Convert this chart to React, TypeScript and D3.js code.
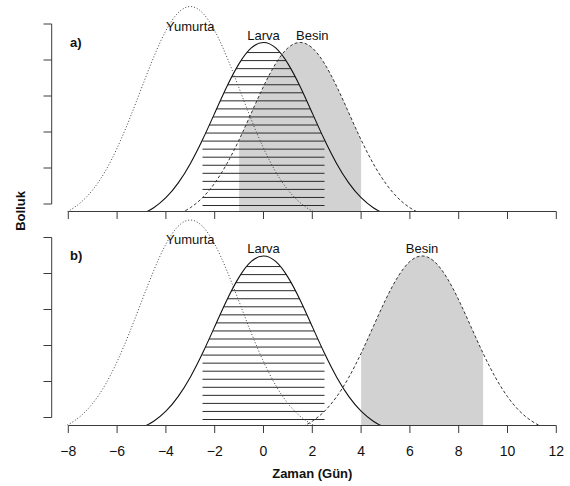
import React from 'react';
import * as d3 from 'd3';

// ---- data ----
const X_TICKS = [-8, -6, -4, -2, 0, 2, 4, 6, 8, 10, 12];
const Y_TICKS = [0.02, 0.06, 0.1, 0.14, 0.18, 0.22];

const YUMURTA_X = [-8.5, -8, -7.5, -7, -6.5, -6, -5.5, -5, -4.5, -4, -3.5, -3, -2.5, -2, -1.5, -1, -0.5, 0, 0.5, 1, 1.5, 2, 2.5];
const YUMURTA_Y = [0.0066, 0.0122, 0.0215, 0.0357, 0.0557, 0.0821, 0.1138, 0.1487, 0.1832, 0.2126, 0.2324, 0.2394, 0.2324, 0.2126, 0.1832, 0.1487, 0.1138, 0.0821, 0.0557, 0.0357, 0.0215, 0.0122, 0.0066];

const LARVA_X = [-5.5, -5, -4.5, -4, -3.5, -3, -2.5, -2, -1.5, -1, -0.5, 0, 0.5, 1, 1.5, 2, 2.5, 3, 3.5, 4, 4.5, 5, 5.5];
const LARVA_Y = [0.0045, 0.0088, 0.0159, 0.027, 0.0432, 0.0648, 0.0913, 0.121, 0.1506, 0.176, 0.1934, 0.1995, 0.1934, 0.176, 0.1506, 0.121, 0.0913, 0.0648, 0.0432, 0.027, 0.0159, 0.0088, 0.0045];

const BESIN_A_X = [-4, -3.5, -3, -2.5, -2, -1.5, -1, -0.5, 0, 0.5, 1, 1.5, 2, 2.5, 3, 3.5, 4, 4.5, 5, 5.5, 6, 6.5, 7];
const BESIN_B_X = [1, 1.5, 2, 2.5, 3, 3.5, 4, 4.5, 5, 5.5, 6, 6.5, 7, 7.5, 8, 8.5, 9, 9.5, 10, 10.5, 11, 11.5, 12];
const BESIN_Y = [0.0045, 0.0088, 0.0159, 0.027, 0.0432, 0.0648, 0.0913, 0.121, 0.1506, 0.176, 0.1934, 0.1995, 0.1934, 0.176, 0.1506, 0.121, 0.0913, 0.0648, 0.0432, 0.027, 0.0159, 0.0088, 0.0045];

const HATCH_RANGE = [-2.5, 2.5];
const SHADE_A = [-1, 4];
const SHADE_B = [4, 9];

const LABEL_NAMES = ['Yumurta', 'Larva', 'Besin'];
const LABEL_X_A = [-3, 0, 2];
const LABEL_X_B = [-3, 0, 6.5];
const LABEL_Y = [0.2125, 0.2025, 0.2025];

// ---- layout ----
const W = 570;
const H = 486;
const FONT = '"Liberation Sans", Arial, Helvetica, sans-serif';
const AXIS_COLOR = '#3a3a3a';

const x = d3.scaleLinear().domain([-8, 12]).range([68.3, 556.3]);

type Pt = { x: number; y: number };
const zip = (xs: number[], ys: number[]): Pt[] => xs.map((v, i) => ({ x: v, y: ys[i] }));

const yumurta = zip(YUMURTA_X, YUMURTA_Y);
const larva = zip(LARVA_X, LARVA_Y);
const besinA = zip(BESIN_A_X, BESIN_Y);
const besinB = zip(BESIN_B_X, BESIN_Y);

interface PanelProps {
  id: string;
  top: number;
  bottom: number;
  baseline: number;
  besin: Pt[];
  shade: number[];
  labelX: number[];
  tag: string;
  tagY: number;
  showTickLabels: boolean;
}

function Panel(p: PanelProps) {
  const y = d3.scaleLinear().domain([0.02, 0.22]).range([p.bottom, p.top]);
  const line = d3
    .line<Pt>()
    .x((d) => x(d.x))
    .y((d) => y(d.y))
    .curve(d3.curveNatural);
  const area = d3
    .area<Pt>()
    .x((d) => x(d.x))
    .y0(p.baseline + 20)
    .y1((d) => y(d.y))
    .curve(d3.curveNatural);

  const regionClip = `${p.id}-region`;
  const shadeClip = `${p.id}-shade`;
  const larvaClip = `${p.id}-larva`;

  const hatchYs = d3.range(20).map((k) => p.baseline - 6 - k * 8.05);

  return (
    <g>
      <defs>
        <clipPath id={regionClip}>
          <rect x={x(-8.8)} y={p.top - 60} width={x(12.8) - x(-8.8)} height={p.baseline - (p.top - 60)} />
        </clipPath>
        <clipPath id={shadeClip}>
          <rect x={x(p.shade[0])} y={p.top - 60} width={x(p.shade[1]) - x(p.shade[0])} height={p.baseline - (p.top - 60)} />
        </clipPath>
        <clipPath id={larvaClip}>
          <path d={area(larva) || ''} />
        </clipPath>
      </defs>

      <g clipPath={`url(#${regionClip})`}>
        <g clipPath={`url(#${shadeClip})`}>
          <path d={area(p.besin) || ''} fill="#d2d2d2" stroke="none" />
        </g>
        <g clipPath={`url(#${larvaClip})`}>
          {hatchYs.map((hy, i) => (
            <line
              key={i}
              x1={x(HATCH_RANGE[0])}
              x2={x(HATCH_RANGE[1])}
              y1={hy}
              y2={hy}
              stroke="#2a2a2a"
              strokeWidth={1}
            />
          ))}
        </g>
        <path d={line(yumurta) || ''} fill="none" stroke="#444" strokeWidth={1} strokeDasharray="1,2" />
        <path d={line(p.besin) || ''} fill="none" stroke="#333" strokeWidth={1} strokeDasharray="3,2.2" />
        <path d={line(larva) || ''} fill="none" stroke="#111" strokeWidth={1.1} />
      </g>

      {LABEL_NAMES.map((name, i) => (
        <text
          key={name}
          x={x(p.labelX[i])}
          y={y(LABEL_Y[i])}
          textAnchor="middle"
          fontFamily={FONT}
          fontSize={13}
          fill="#111"
        >
          {name}
        </text>
      ))}

      <text x={70} y={p.tagY} fontFamily={FONT} fontSize={13} fontWeight="bold" fill="#111">
        {p.tag}
      </text>

      <line x1={51.7} x2={51.7} y1={p.top} y2={p.bottom} stroke={AXIS_COLOR} strokeWidth={1} />
      {Y_TICKS.map((t) => (
        <line key={t} x1={43.5} x2={51.7} y1={y(t)} y2={y(t)} stroke={AXIS_COLOR} strokeWidth={1} />
      ))}

      <line x1={x(-8)} x2={x(12)} y1={p.baseline} y2={p.baseline} stroke={AXIS_COLOR} strokeWidth={1} />
      {X_TICKS.map((t) => (
        <line key={t} x1={x(t)} x2={x(t)} y1={p.baseline} y2={p.baseline + 7.5} stroke={AXIS_COLOR} strokeWidth={1} />
      ))}
      {p.showTickLabels &&
        X_TICKS.map((t) => (
          <text
            key={`l${t}`}
            x={x(t)}
            y={p.baseline + 30}
            textAnchor="middle"
            fontFamily={FONT}
            fontSize={14}
            fill="#111"
          >
            {t < 0 ? `\u2212${Math.abs(t)}` : `${t}`}
          </text>
        ))}
    </g>
  );
}

export default function App() {
  return (
    <svg
      width={W}
      height={H}
      viewBox={`0 0 ${W} ${H}`}
      style={{ position: 'absolute', left: 0, top: 0, background: '#fff' }}
    >
      <rect x={0} y={0} width={W} height={H} fill="#fff" />
      <Panel
        id="pa"
        top={24}
        bottom={204}
        baseline={211.5}
        besin={besinA}
        shade={SHADE_A}
        labelX={LABEL_X_A}
        tag="a)"
        tagY={47}
        showTickLabels={false}
      />
      <Panel
        id="pb"
        top={237.5}
        bottom={417.5}
        baseline={425.5}
        besin={besinB}
        shade={SHADE_B}
        labelX={LABEL_X_B}
        tag="b)"
        tagY={260}
        showTickLabels={true}
      />
      <text
        transform="translate(25,211) rotate(-90)"
        textAnchor="middle"
        fontFamily={FONT}
        fontSize={13}
        fontWeight="bold"
        fill="#111"
      >
        Bolluk
      </text>
      <text x={312.3} y={478} textAnchor="middle" fontFamily={FONT} fontSize={13} fontWeight="bold" fill="#111">
        Zaman (Gün)
      </text>
    </svg>
  );
}
